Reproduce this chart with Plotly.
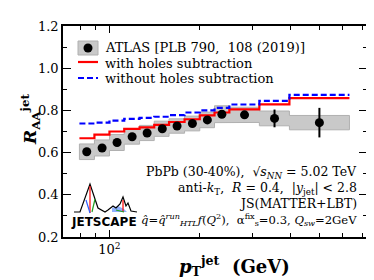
import plotly.graph_objects as go
import numpy as np

# ---------------- data ----------------
bin_edges = [79.4, 89.1, 100, 112, 126, 141, 158, 178, 200, 224, 251, 316, 398, 631]
atlas_pt = [84, 94.5, 106, 119, 133.5, 150, 168, 189, 212, 237, 282, 355, 501]
atlas_raa = [0.604, 0.622, 0.648, 0.675, 0.693, 0.713, 0.726, 0.738, 0.755, 0.782, 0.779, 0.762, 0.742]
atlas_stat = [0.004, 0.004, 0.004, 0.004, 0.004, 0.005, 0.006, 0.007, 0.008, 0.010, 0.015, 0.042, 0.070]
atlas_sys = [0.037, 0.038, 0.038, 0.035, 0.036, 0.036, 0.034, 0.035, 0.037, 0.040, 0.036, 0.035, 0.034]
with_holes = [0.668, 0.685, 0.700, 0.712, 0.720, 0.731, 0.745, 0.758, 0.776, 0.790, 0.805, 0.829, 0.858]
without_holes = [0.738, 0.742, 0.752, 0.760, 0.765, 0.770, 0.778, 0.790, 0.800, 0.812, 0.828, 0.845, 0.874]

x_major_ticks = [100]
x_major_labels = ["10<sup>2</sup>"]
x_minor_ticks = [70, 80, 90, 200, 300, 400, 500, 600, 700]
y_ticks = [0.2, 0.4, 0.6, 0.8, 1.0, 1.2]

legend_labels = ["ATLAS [PLB 790,  108 (2019)]", "with holes subtraction", "without holes subtraction"]

SERIF = "DejaVu Serif"
W, H = 374, 280
L, R, T, B = 55, 15, 18, 51
PW, PH = W - L - R, H - T - B

def P(px, py):
    return ((px - L) / PW, (H - B - py) / PH)

fig = go.Figure()

# systematic band (stepped polygon)
ux, uy, lx, ly = [], [], [], []
for i in range(len(atlas_raa)):
    ux += [bin_edges[i], bin_edges[i + 1]]
    uy += [atlas_raa[i] + atlas_sys[i]] * 2
    lx += [bin_edges[i], bin_edges[i + 1]]
    ly += [atlas_raa[i] - atlas_sys[i]] * 2
fig.add_trace(go.Scatter(x=ux + lx[::-1] + [ux[0]], y=uy + ly[::-1] + [uy[0]],
                         mode="lines", fill="toself", fillcolor="#c9c9c9",
                         line=dict(color="#b0b0b0", width=1), hoverinfo="skip",
                         showlegend=False))

# theory curves
fig.add_trace(go.Scatter(x=bin_edges, y=with_holes + [with_holes[-1]], mode="lines",
                         line=dict(color="#ff0000", width=2.2, shape="hv"), showlegend=False))
fig.add_trace(go.Scatter(x=bin_edges, y=without_holes + [without_holes[-1]], mode="lines",
                         line=dict(color="#0000ff", width=2.2, shape="hv", dash="6px,3px"),
                         showlegend=False))

# data points
fig.add_trace(go.Scatter(x=atlas_pt, y=atlas_raa, mode="markers",
                         marker=dict(color="black", size=9),
                         error_y=dict(type="data", array=atlas_stat, color="black", thickness=2, width=0),
                         showlegend=False))

shapes = []
ann = []

# manual legend
x0, y0 = P(70, 33)
x1, y1 = P(90, 47)
shapes.append(dict(type="rect", xref="paper", yref="paper", x0=x0, y0=y0, x1=x1, y1=y1,
                   fillcolor="#c9c9c9", line=dict(color="#b0b0b0", width=1)))
cx, cy = P(80, 40)
shapes.append(dict(type="circle", xref="paper", yref="paper",
                   x0=cx - 4.5 / PW, x1=cx + 4.5 / PW, y0=cy - 4.5 / PH, y1=cy + 4.5 / PH,
                   fillcolor="black", line=dict(color="black", width=0)))
a, b = P(70, 54)
c, d = P(90, 54)
shapes.append(dict(type="line", xref="paper", yref="paper", x0=a, y0=b, x1=c, y1=d,
                   line=dict(color="#ff0000", width=2.2)))
a, b = P(70, 70)
c, d = P(90, 70)
shapes.append(dict(type="line", xref="paper", yref="paper", x0=a, y0=b, x1=c, y1=d,
                   line=dict(color="#0000ff", width=2.2, dash="6px,3px")))
for lab, py in zip(legend_labels, [40, 55.5, 70.5]):
    xx, yy = P(95, py)
    ann.append(dict(x=xx, y=yy, xref="paper", yref="paper", text=lab, showarrow=False,
                    xanchor="left", yanchor="middle", font=dict(family=SERIF, size=13, color="black")))

# info text (right aligned)
info = [
    ("PbPb (30-40%),  √<i>s</i><sub><i>NN</i></sub> = 5.02 TeV", 164.5, 12.5),
    ("anti-<i>k</i><sub>T</sub>,  <i>R</i> = 0.4,  |<i>y</i><sub>jet</sub>| &lt; 2.8", 180, 12.5),
    ("JS(MATTER+LBT)", 195.5, 12.5),
    ("<i>q̂</i>=<i>q̂</i><sup><i>run</i></sup><sub><i>HTL</i></sub><i>f</i>(<i>Q</i><sup>2</sup>),  α<sup>fix</sup><sub>s</sub>=0.3, <i>Q</i><sub><i>sw</i></sub>=2GeV", 211.5, 11.6),
]
for txt, py, fs in info:
    xx, yy = P(351, py)
    ann.append(dict(x=xx, y=yy, xref="paper", yref="paper", text=txt, showarrow=False,
                    xanchor="right", yanchor="middle", font=dict(family=SERIF, size=fs, color="black")))

# JETSCAPE logo
def path(pts):
    s = ""
    for i, (px, py) in enumerate(pts):
        X, Y = P(px, py)
        s += ("M" if i == 0 else " L") + f"{X:.4f},{Y:.4f}"
    return s

shapes.append(dict(type="path", xref="paper", yref="paper",
                   path=path([(104, 200), (110, 198), (116, 201), (119, 204), (104, 204)]) + " Z",
                   fillcolor="#8fb0ff", line=dict(width=0)))
shapes.append(dict(type="path", xref="paper", yref="paper",
                   path=path([(66, 204), (72, 204), (82, 176), (90, 200), (97, 204), (100, 202),
                              (105, 198), (108, 200), (112, 196), (115, 189), (118, 198),
                              (120, 195), (123, 203), (129, 204)]),
                   line=dict(color="black", width=1.2)))
for pts, col in [([(82, 178), (82, 205)], "#ff0000"), ([(115, 192), (115, 204)], "#ff0000"),
                 ([(78, 192), (82, 205)], "#3060ff"), ([(84, 204), (87, 191)], "#20a020"),
                 ([(108, 202), (116, 204)], "#20a020")]:
    shapes.append(dict(type="path", xref="paper", yref="paper", path=path(pts),
                       line=dict(color=col, width=1.2)))
xx, yy = P(96, 214)
ann.append(dict(x=xx, y=yy, xref="paper", yref="paper", text="<b>JETSCAPE</b>", showarrow=False,
                xanchor="center", yanchor="middle",
                font=dict(family="DejaVu Sans", size=12, color="black")))

# axis titles
xx, yy = P(226, 258)
ann.append(dict(x=xx, y=yy, xref="paper", yref="paper",
                text="<b><i>p</i><sub>T</sub><sup>jet</sup>  (GeV)</b>", showarrow=False,
                xanchor="center", yanchor="middle", font=dict(family=SERIF, size=18, color="black")))
xx, yy = P(22, 112)
ann.append(dict(x=xx, y=yy, xref="paper", yref="paper",
                text="<b><i>R</i><sub>AA</sub><sup>jet</sup></b>", showarrow=False, textangle=-90,
                xanchor="center", yanchor="middle", font=dict(family=SERIF, size=17, color="black")))

fig.update_layout(
    width=W, height=H, margin=dict(l=L, r=R, t=T, b=B),
    paper_bgcolor="white", plot_bgcolor="white",
    shapes=shapes, annotations=ann, showlegend=False,
    xaxis=dict(type="log", range=[np.log10(70), np.log10(722)], showgrid=False, zeroline=False,
               showline=True, linecolor="black", linewidth=1.6, mirror="allticks",
               ticks="inside", ticklen=7, tickwidth=1.3, tickcolor="black",
               tickmode="array", tickvals=x_major_ticks, ticktext=x_major_labels,
               tickfont=dict(family=SERIF, size=13, color="black"),
               minor=dict(tickmode="array", tickvals=x_minor_ticks, ticks="inside", ticklen=4,
                          tickwidth=1.2, tickcolor="black", showgrid=False)),
    yaxis=dict(range=[0.2, 1.2], showgrid=False, zeroline=False,
               showline=True, linecolor="black", linewidth=1.6, mirror="allticks",
               ticks="inside", ticklen=8, tickwidth=1.3, tickcolor="black",
               tickmode="array", tickvals=y_ticks, tickformat=".1f",
               tickfont=dict(family=SERIF, size=13, color="black"),
               minor=dict(dtick=0.1, ticks="inside", ticklen=4, tickwidth=1.2,
                          tickcolor="black", showgrid=False)),
)

fig.write_html("out.html")
